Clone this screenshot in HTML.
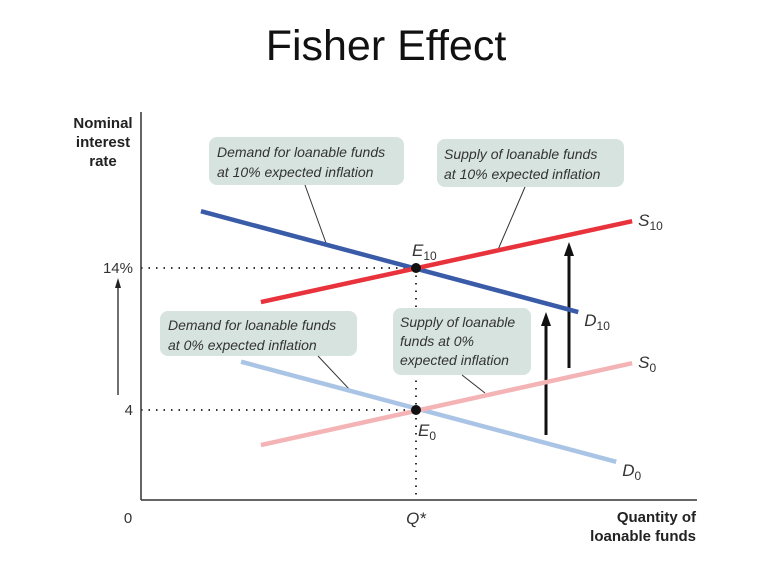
<!DOCTYPE html>
<html><head><meta charset="utf-8"><style>
body{margin:0;background:#fff;}
svg{display:block;font-family:"Liberation Sans",sans-serif;}
.lbl{font-style:italic;font-size:14px;fill:#333;}
.box{fill:#d7e3df;}
</style></head><body>
<svg id="chart" width="776" height="567" viewBox="0 0 776 567">
<text x="386" y="60" text-anchor="middle" font-size="43" fill="#111">Fisher Effect</text>
<g id="axes">
<line x1="141" y1="112" x2="141" y2="500" stroke="#333" stroke-width="1.5"/>
<line x1="141" y1="500" x2="697" y2="500" stroke="#333" stroke-width="1.5"/>
<text x="103" y="128" text-anchor="middle" font-size="15" font-weight="bold" fill="#222"><tspan x="103">Nominal</tspan><tspan x="103" dy="19">interest</tspan><tspan x="103" dy="19">rate</tspan></text>
<text x="696" y="522" text-anchor="end" font-size="15" font-weight="bold" fill="#222"><tspan x="696">Quantity of</tspan><tspan x="696" dy="19">loanable funds</tspan></text>
<text x="128" y="523" text-anchor="middle" font-size="15" fill="#333">0</text>
<line x1="118" y1="395" x2="118" y2="285" stroke="#222" stroke-width="1.3"/>
<polygon points="118,278 115,288 121,288" fill="#222"/>
</g>
<g id="guides"></g>
<g id="boxes">
<rect class="box" x="209" y="137" width="195" height="48" rx="8"/>
<text class="lbl" x="217" y="157"><tspan x="217">Demand for loanable funds</tspan><tspan x="217" dy="20">at 10% expected inflation</tspan></text>
<rect class="box" x="437" y="139" width="187" height="48" rx="8"/>
<text class="lbl" x="444" y="159"><tspan x="444">Supply of loanable funds</tspan><tspan x="444" dy="20">at 10% expected inflation</tspan></text>
<rect class="box" x="160" y="311" width="197" height="45" rx="8"/>
<text class="lbl" x="168" y="330"><tspan x="168">Demand for loanable funds</tspan><tspan x="168" dy="20">at 0% expected inflation</tspan></text>
<rect class="box" x="393" y="308" width="138" height="67" rx="8"/>
<text class="lbl" x="400" y="327"><tspan x="400">Supply of loanable</tspan><tspan x="400" dy="19">funds at 0%</tspan><tspan x="400" dy="19">expected inflation</tspan></text>
<g stroke="#333" stroke-width="1">
<line x1="305" y1="185" x2="326" y2="243"/>
<line x1="525" y1="187" x2="497" y2="252"/>
<line x1="318" y1="356" x2="350" y2="390"/>
<line x1="462" y1="375" x2="485" y2="393"/>
</g>
<line x1="569" y1="368" x2="569" y2="252" stroke="#111" stroke-width="3"/>
<polygon points="569,242 564,256 574,256" fill="#111"/>
<line x1="546" y1="435" x2="546" y2="322" stroke="#111" stroke-width="3"/>
<polygon points="546,312 541,326 551,326" fill="#111"/>
</g>
<g id="plot"></g>
</svg>
<script>
// Curves: [q1, r1, q2, r2] endpoints in (quantity, nominal rate %)
const curveNames = ["D10","S10","D0","S0"];
const curveColors = ["#3a5ba8","#e8333d","#aac4e6","#f4b4b6"];
const curveQ1 = [10.9, 21.8, 18.2, 21.8];
const curveR1 = [18.0, 11.6, 7.4, 1.53];
const curveQ2 = [79.5, 89.3, 86.4, 89.3];
const curveR2 = [10.9, 17.3, 0.35, 7.3];
const eqNames = ["E10","E0"];
const eqQ = [50, 50];
const eqR = [14, 4];
const tickLabels = ["14%","4"];
const qStarLabel = "Q*";

const xS = q => 141 + q * 5.5;
const yS = r => 466.8 - r * 14.2;
const NS = "http://www.w3.org/2000/svg";
const plot = document.getElementById("plot");
const guides = document.getElementById("guides");
function mk(tag, attrs, parent){const e=document.createElementNS(NS,tag);for(const k in attrs)e.setAttribute(k,attrs[k]);(parent||plot).appendChild(e);return e;}

for(let i=0;i<eqR.length;i++){
  const h=mk("line",{x1:141,y1:yS(eqR[i]),x2:xS(eqQ[i]),y2:yS(eqR[i]),stroke:"#333","stroke-width":2,"stroke-dasharray":"1.5 6"},guides);
  
  
  const t=mk("text",{x:133,y:yS(eqR[i])+5,"text-anchor":"end","font-size":15,fill:"#333"},guides);
  t.textContent=tickLabels[i];
  
  
}
const v=mk("line",{x1:xS(eqQ[0]),y1:yS(eqR[0]),x2:xS(eqQ[0]),y2:500,stroke:"#333","stroke-width":2,"stroke-dasharray":"1.5 6"},guides);


const qs=mk("text",{x:xS(eqQ[0]),y:524,"text-anchor":"middle","font-size":17,"font-style":"italic",fill:"#333"},guides);
qs.textContent=qStarLabel;



const order=[2,3,0,1];
for(const i of order){
  const l=mk("line",{x1:xS(curveQ1[i]),y1:yS(curveR1[i]),x2:xS(curveQ2[i]),y2:yS(curveR2[i]),stroke:curveColors[i],"stroke-width":4.5});
  
  
  const lx=xS(curveQ2[i])+6, ly=yS(curveR2[i])+(curveNames[i][0]==="D"?14:5);
  const t=mk("text",{x:lx,y:ly,"font-size":17,"font-style":"italic",fill:"#333"});
  t.innerHTML=curveNames[i][0]+'<tspan font-size="12" font-style="normal" dy="4">'+curveNames[i].slice(1)+'</tspan>';
  
  
}
for(let i=0;i<eqQ.length;i++){
  const c=mk("circle",{cx:xS(eqQ[i]),cy:yS(eqR[i]),r:5,fill:"#111"});
  
  
  const above=i===0;
  const t=mk("text",{x:xS(eqQ[i])+(above?-4:2),y:yS(eqR[i])+(above?-12:26),"font-size":17,"font-style":"italic",fill:"#333"});
  t.innerHTML='E<tspan font-size="12" font-style="normal" dy="4">'+eqNames[i].slice(1)+'</tspan>';
  
  
}
</script>
</body></html>
